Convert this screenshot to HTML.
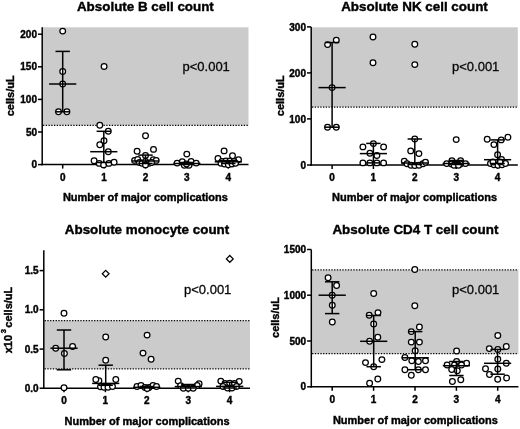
<!DOCTYPE html>
<html><head><meta charset="utf-8"><style>
html,body{margin:0;padding:0;background:#fff;}
svg{display:block;will-change:transform;}
text{font-family:"Liberation Sans", sans-serif;fill:#000;}
text[font-weight=bold]{stroke:#000;stroke-width:0.4px;}
</style></head><body>
<svg width="520" height="429" viewBox="0 0 520 429">
<rect width="520" height="429" fill="#fff"/>
<rect x="42.2" y="27.3" width="206.3" height="98.1" fill="#cbcbcb"/>
<line x1="43.0" y1="125.4" x2="248.5" y2="125.4" stroke="#000" stroke-width="1.3" stroke-dasharray="1.3 1.45"/>
<line x1="42.2" y1="27.3" x2="42.2" y2="165.35" stroke="#000" stroke-width="1.5" />
<line x1="41.45" y1="164.6" x2="248.5" y2="164.6" stroke="#000" stroke-width="1.5" />
<line x1="38.0" y1="34.2" x2="42.2" y2="34.2" stroke="#000" stroke-width="1.5" />
<text x="37.0" y="37.8" font-size="10" font-weight="bold" text-anchor="end" >200</text>
<line x1="38.0" y1="66.8" x2="42.2" y2="66.8" stroke="#000" stroke-width="1.5" />
<text x="37.0" y="70.4" font-size="10" font-weight="bold" text-anchor="end" >150</text>
<line x1="38.0" y1="99.4" x2="42.2" y2="99.4" stroke="#000" stroke-width="1.5" />
<text x="37.0" y="103.0" font-size="10" font-weight="bold" text-anchor="end" >100</text>
<line x1="38.0" y1="132" x2="42.2" y2="132" stroke="#000" stroke-width="1.5" />
<text x="37.0" y="135.6" font-size="10" font-weight="bold" text-anchor="end" >50</text>
<line x1="38.0" y1="164.6" x2="42.2" y2="164.6" stroke="#000" stroke-width="1.5" />
<text x="37.0" y="168.2" font-size="10" font-weight="bold" text-anchor="end" >0</text>
<line x1="62.7" y1="164.6" x2="62.7" y2="168.6" stroke="#000" stroke-width="1.5" />
<text x="62.7" y="180.7" font-size="10" font-weight="bold" text-anchor="middle" >0</text>
<line x1="104.1" y1="164.6" x2="104.1" y2="168.6" stroke="#000" stroke-width="1.5" />
<text x="104.1" y="180.7" font-size="10" font-weight="bold" text-anchor="middle" >1</text>
<line x1="145.5" y1="164.6" x2="145.5" y2="168.6" stroke="#000" stroke-width="1.5" />
<text x="145.5" y="180.7" font-size="10" font-weight="bold" text-anchor="middle" >2</text>
<line x1="186.9" y1="164.6" x2="186.9" y2="168.6" stroke="#000" stroke-width="1.5" />
<text x="186.9" y="180.7" font-size="10" font-weight="bold" text-anchor="middle" >3</text>
<line x1="228.3" y1="164.6" x2="228.3" y2="168.6" stroke="#000" stroke-width="1.5" />
<text x="228.3" y="180.7" font-size="10" font-weight="bold" text-anchor="middle" >4</text>
<text x="145.4" y="10.5" font-size="13.4" font-weight="bold" text-anchor="middle" >Absolute B cell count</text>
<text x="145.4" y="201.3" font-size="11" font-weight="bold" text-anchor="middle" >Number of major complications</text>
<text transform="translate(14,95.8) rotate(-90)" font-size="11" font-weight="bold" text-anchor="middle">cells/uL</text>
<text x="182.5" y="70.9" font-size="13" font-weight="normal" text-anchor="start" fill="#111" stroke="#111" stroke-width="0.3">p&lt;0.001</text>
<circle cx="62.7" cy="31.1" r="2.85" fill="#fff" stroke="#000" stroke-width="1.25"/>
<circle cx="62.7" cy="71.4" r="2.85" fill="#fff" stroke="#000" stroke-width="1.25"/>
<circle cx="62.7" cy="84" r="2.85" fill="#fff" stroke="#000" stroke-width="1.25"/>
<circle cx="58.5" cy="111.8" r="2.85" fill="#fff" stroke="#000" stroke-width="1.25"/>
<circle cx="66.9" cy="111.8" r="2.85" fill="#fff" stroke="#000" stroke-width="1.25"/>
<circle cx="104.1" cy="66.4" r="2.85" fill="#fff" stroke="#000" stroke-width="1.25"/>
<circle cx="99.8" cy="125.2" r="2.85" fill="#fff" stroke="#000" stroke-width="1.25"/>
<circle cx="108.3" cy="131.3" r="2.85" fill="#fff" stroke="#000" stroke-width="1.25"/>
<circle cx="104" cy="140.7" r="2.85" fill="#fff" stroke="#000" stroke-width="1.25"/>
<circle cx="99.8" cy="144.8" r="2.85" fill="#fff" stroke="#000" stroke-width="1.25"/>
<circle cx="108.3" cy="151.7" r="2.85" fill="#fff" stroke="#000" stroke-width="1.25"/>
<circle cx="94.1" cy="160.8" r="2.85" fill="#fff" stroke="#000" stroke-width="1.25"/>
<circle cx="99.2" cy="163.4" r="2.85" fill="#fff" stroke="#000" stroke-width="1.25"/>
<circle cx="103.6" cy="164.9" r="2.85" fill="#fff" stroke="#000" stroke-width="1.25"/>
<circle cx="108.9" cy="163.4" r="2.85" fill="#fff" stroke="#000" stroke-width="1.25"/>
<circle cx="114.1" cy="162.2" r="2.85" fill="#fff" stroke="#000" stroke-width="1.25"/>
<circle cx="145.5" cy="135.8" r="2.85" fill="#fff" stroke="#000" stroke-width="1.25"/>
<circle cx="137.1" cy="151.2" r="2.85" fill="#fff" stroke="#000" stroke-width="1.25"/>
<circle cx="153.5" cy="149.4" r="2.85" fill="#fff" stroke="#000" stroke-width="1.25"/>
<circle cx="145.5" cy="155.4" r="2.85" fill="#fff" stroke="#000" stroke-width="1.25"/>
<circle cx="134.6" cy="160.4" r="2.85" fill="#fff" stroke="#000" stroke-width="1.25"/>
<circle cx="137.7" cy="159.5" r="2.85" fill="#fff" stroke="#000" stroke-width="1.25"/>
<circle cx="153.3" cy="159.6" r="2.85" fill="#fff" stroke="#000" stroke-width="1.25"/>
<circle cx="156.2" cy="160.4" r="2.85" fill="#fff" stroke="#000" stroke-width="1.25"/>
<circle cx="139.5" cy="162.5" r="2.85" fill="#fff" stroke="#000" stroke-width="1.25"/>
<circle cx="142" cy="163.3" r="2.85" fill="#fff" stroke="#000" stroke-width="1.25"/>
<circle cx="145.5" cy="161.5" r="2.85" fill="#fff" stroke="#000" stroke-width="1.25"/>
<circle cx="149" cy="163.3" r="2.85" fill="#fff" stroke="#000" stroke-width="1.25"/>
<circle cx="151.5" cy="162.5" r="2.85" fill="#fff" stroke="#000" stroke-width="1.25"/>
<circle cx="145.5" cy="164.9" r="2.85" fill="#fff" stroke="#000" stroke-width="1.25"/>
<circle cx="186.8" cy="154.1" r="2.85" fill="#fff" stroke="#000" stroke-width="1.25"/>
<circle cx="177.1" cy="163.1" r="2.85" fill="#fff" stroke="#000" stroke-width="1.25"/>
<circle cx="182.3" cy="161.7" r="2.85" fill="#fff" stroke="#000" stroke-width="1.25"/>
<circle cx="191.1" cy="161.5" r="2.85" fill="#fff" stroke="#000" stroke-width="1.25"/>
<circle cx="196.2" cy="163.1" r="2.85" fill="#fff" stroke="#000" stroke-width="1.25"/>
<circle cx="184.3" cy="165.3" r="2.85" fill="#fff" stroke="#000" stroke-width="1.25"/>
<circle cx="189" cy="165.3" r="2.85" fill="#fff" stroke="#000" stroke-width="1.25"/>
<circle cx="186.5" cy="164" r="2.85" fill="#fff" stroke="#000" stroke-width="1.25"/>
<circle cx="224.1" cy="150.9" r="2.85" fill="#fff" stroke="#000" stroke-width="1.25"/>
<circle cx="232.5" cy="155.8" r="2.85" fill="#fff" stroke="#000" stroke-width="1.25"/>
<circle cx="218" cy="158.4" r="2.85" fill="#fff" stroke="#000" stroke-width="1.25"/>
<circle cx="238.5" cy="159.6" r="2.85" fill="#fff" stroke="#000" stroke-width="1.25"/>
<circle cx="222" cy="161.5" r="2.85" fill="#fff" stroke="#000" stroke-width="1.25"/>
<circle cx="226" cy="161" r="2.85" fill="#fff" stroke="#000" stroke-width="1.25"/>
<circle cx="230" cy="161" r="2.85" fill="#fff" stroke="#000" stroke-width="1.25"/>
<circle cx="234" cy="161.5" r="2.85" fill="#fff" stroke="#000" stroke-width="1.25"/>
<circle cx="221" cy="163.3" r="2.85" fill="#fff" stroke="#000" stroke-width="1.25"/>
<circle cx="224.5" cy="164" r="2.85" fill="#fff" stroke="#000" stroke-width="1.25"/>
<circle cx="228.3" cy="164.7" r="2.85" fill="#fff" stroke="#000" stroke-width="1.25"/>
<circle cx="232" cy="164" r="2.85" fill="#fff" stroke="#000" stroke-width="1.25"/>
<circle cx="235.5" cy="163.3" r="2.85" fill="#fff" stroke="#000" stroke-width="1.25"/>
<line x1="62.7" y1="51.4" x2="62.7" y2="111.8" stroke="#000" stroke-width="1.5" />
<line x1="55.5" y1="51.4" x2="69.9" y2="51.4" stroke="#000" stroke-width="1.5" />
<line x1="55.5" y1="111.8" x2="69.9" y2="111.8" stroke="#000" stroke-width="1.5" />
<line x1="49.1" y1="84" x2="76.3" y2="84" stroke="#000" stroke-width="1.5" />
<line x1="103.8" y1="131.3" x2="103.8" y2="162.5" stroke="#000" stroke-width="1.5" />
<line x1="96.6" y1="131.3" x2="111.0" y2="131.3" stroke="#000" stroke-width="1.5" />
<line x1="96.6" y1="162.5" x2="111.0" y2="162.5" stroke="#000" stroke-width="1.5" />
<line x1="90.2" y1="151.7" x2="117.4" y2="151.7" stroke="#000" stroke-width="1.5" />
<line x1="145.5" y1="155.1" x2="145.5" y2="163.5" stroke="#000" stroke-width="1.5" />
<line x1="138.3" y1="155.1" x2="152.7" y2="155.1" stroke="#000" stroke-width="1.5" />
<line x1="138.3" y1="163.5" x2="152.7" y2="163.5" stroke="#000" stroke-width="1.5" />
<line x1="131.9" y1="161" x2="159.1" y2="161" stroke="#000" stroke-width="1.5" />
<line x1="186.9" y1="162.5" x2="186.9" y2="164.5" stroke="#000" stroke-width="1.5" />
<line x1="179.7" y1="162.5" x2="194.1" y2="162.5" stroke="#000" stroke-width="1.5" />
<line x1="179.7" y1="164.5" x2="194.1" y2="164.5" stroke="#000" stroke-width="1.5" />
<line x1="173.3" y1="163.5" x2="200.5" y2="163.5" stroke="#000" stroke-width="1.5" />
<line x1="228.3" y1="160.6" x2="228.3" y2="163.5" stroke="#000" stroke-width="1.5" />
<line x1="221.1" y1="160.6" x2="235.5" y2="160.6" stroke="#000" stroke-width="1.5" />
<line x1="221.1" y1="163.5" x2="235.5" y2="163.5" stroke="#000" stroke-width="1.5" />
<line x1="214.7" y1="161.8" x2="241.9" y2="161.8" stroke="#000" stroke-width="1.5" />
<rect x="311.2" y="27.3" width="206.6" height="79.8" fill="#cbcbcb"/>
<line x1="312.0" y1="107.1" x2="517.8" y2="107.1" stroke="#000" stroke-width="1.3" stroke-dasharray="1.3 1.45"/>
<line x1="311.2" y1="27.0" x2="311.2" y2="165.75" stroke="#000" stroke-width="1.5" />
<line x1="310.45" y1="165.0" x2="517.8" y2="165.0" stroke="#000" stroke-width="1.5" />
<line x1="307.0" y1="26.9" x2="311.2" y2="26.9" stroke="#000" stroke-width="1.5" />
<text x="306.0" y="30.5" font-size="10" font-weight="bold" text-anchor="end" >300</text>
<line x1="307.0" y1="72.9" x2="311.2" y2="72.9" stroke="#000" stroke-width="1.5" />
<text x="306.0" y="76.5" font-size="10" font-weight="bold" text-anchor="end" >200</text>
<line x1="307.0" y1="118.9" x2="311.2" y2="118.9" stroke="#000" stroke-width="1.5" />
<text x="306.0" y="122.5" font-size="10" font-weight="bold" text-anchor="end" >100</text>
<line x1="307.0" y1="165" x2="311.2" y2="165" stroke="#000" stroke-width="1.5" />
<text x="306.0" y="168.6" font-size="10" font-weight="bold" text-anchor="end" >0</text>
<line x1="332.1" y1="165.0" x2="332.1" y2="169.0" stroke="#000" stroke-width="1.5" />
<text x="332.1" y="180.8" font-size="10" font-weight="bold" text-anchor="middle" >0</text>
<line x1="373.4" y1="165.0" x2="373.4" y2="169.0" stroke="#000" stroke-width="1.5" />
<text x="373.4" y="180.8" font-size="10" font-weight="bold" text-anchor="middle" >1</text>
<line x1="414.8" y1="165.0" x2="414.8" y2="169.0" stroke="#000" stroke-width="1.5" />
<text x="414.8" y="180.8" font-size="10" font-weight="bold" text-anchor="middle" >2</text>
<line x1="456.2" y1="165.0" x2="456.2" y2="169.0" stroke="#000" stroke-width="1.5" />
<text x="456.2" y="180.8" font-size="10" font-weight="bold" text-anchor="middle" >3</text>
<line x1="497.6" y1="165.0" x2="497.6" y2="169.0" stroke="#000" stroke-width="1.5" />
<text x="497.6" y="180.8" font-size="10" font-weight="bold" text-anchor="middle" >4</text>
<text x="414.5" y="10.5" font-size="13.4" font-weight="bold" text-anchor="middle" >Absolute NK cell count</text>
<text x="414.5" y="201.1" font-size="11" font-weight="bold" text-anchor="middle" >Number of major complications</text>
<text transform="translate(284,95.7) rotate(-90)" font-size="11" font-weight="bold" text-anchor="middle">cells/uL</text>
<text x="452.0" y="71.0" font-size="13" font-weight="normal" text-anchor="start" fill="#111" stroke="#111" stroke-width="0.3">p&lt;0.001</text>
<circle cx="327.6" cy="44.6" r="2.85" fill="#fff" stroke="#000" stroke-width="1.25"/>
<circle cx="336.3" cy="40.1" r="2.85" fill="#fff" stroke="#000" stroke-width="1.25"/>
<circle cx="332.1" cy="87.6" r="2.85" fill="#fff" stroke="#000" stroke-width="1.25"/>
<circle cx="327.5" cy="127.2" r="2.85" fill="#fff" stroke="#000" stroke-width="1.25"/>
<circle cx="336.3" cy="127.2" r="2.85" fill="#fff" stroke="#000" stroke-width="1.25"/>
<circle cx="373.0" cy="36.9" r="2.85" fill="#fff" stroke="#000" stroke-width="1.25"/>
<circle cx="373.0" cy="62.8" r="2.85" fill="#fff" stroke="#000" stroke-width="1.25"/>
<circle cx="373.4" cy="143.6" r="2.85" fill="#fff" stroke="#000" stroke-width="1.25"/>
<circle cx="362.9" cy="146.9" r="2.85" fill="#fff" stroke="#000" stroke-width="1.25"/>
<circle cx="383.6" cy="146.9" r="2.85" fill="#fff" stroke="#000" stroke-width="1.25"/>
<circle cx="369.9" cy="153.2" r="2.85" fill="#fff" stroke="#000" stroke-width="1.25"/>
<circle cx="376.9" cy="155.5" r="2.85" fill="#fff" stroke="#000" stroke-width="1.25"/>
<circle cx="362.9" cy="162.9" r="2.85" fill="#fff" stroke="#000" stroke-width="1.25"/>
<circle cx="369.9" cy="162.9" r="2.85" fill="#fff" stroke="#000" stroke-width="1.25"/>
<circle cx="376.9" cy="162.9" r="2.85" fill="#fff" stroke="#000" stroke-width="1.25"/>
<circle cx="383.6" cy="162.9" r="2.85" fill="#fff" stroke="#000" stroke-width="1.25"/>
<circle cx="414.8" cy="44.2" r="2.85" fill="#fff" stroke="#000" stroke-width="1.25"/>
<circle cx="414.8" cy="64.6" r="2.85" fill="#fff" stroke="#000" stroke-width="1.25"/>
<circle cx="414.8" cy="139" r="2.85" fill="#fff" stroke="#000" stroke-width="1.25"/>
<circle cx="410.7" cy="150.9" r="2.85" fill="#fff" stroke="#000" stroke-width="1.25"/>
<circle cx="418.9" cy="153.6" r="2.85" fill="#fff" stroke="#000" stroke-width="1.25"/>
<circle cx="404.3" cy="161.1" r="2.85" fill="#fff" stroke="#000" stroke-width="1.25"/>
<circle cx="407" cy="163.8" r="2.85" fill="#fff" stroke="#000" stroke-width="1.25"/>
<circle cx="411" cy="165.2" r="2.85" fill="#fff" stroke="#000" stroke-width="1.25"/>
<circle cx="414.8" cy="165.6" r="2.85" fill="#fff" stroke="#000" stroke-width="1.25"/>
<circle cx="419" cy="165.2" r="2.85" fill="#fff" stroke="#000" stroke-width="1.25"/>
<circle cx="423" cy="163.8" r="2.85" fill="#fff" stroke="#000" stroke-width="1.25"/>
<circle cx="425.5" cy="162.3" r="2.85" fill="#fff" stroke="#000" stroke-width="1.25"/>
<circle cx="456.2" cy="139.6" r="2.85" fill="#fff" stroke="#000" stroke-width="1.25"/>
<circle cx="446.7" cy="163.6" r="2.85" fill="#fff" stroke="#000" stroke-width="1.25"/>
<circle cx="451.9" cy="160.8" r="2.85" fill="#fff" stroke="#000" stroke-width="1.25"/>
<circle cx="460.6" cy="160.8" r="2.85" fill="#fff" stroke="#000" stroke-width="1.25"/>
<circle cx="465.5" cy="163.6" r="2.85" fill="#fff" stroke="#000" stroke-width="1.25"/>
<circle cx="451.5" cy="164" r="2.85" fill="#fff" stroke="#000" stroke-width="1.25"/>
<circle cx="456" cy="164" r="2.85" fill="#fff" stroke="#000" stroke-width="1.25"/>
<circle cx="460.5" cy="164" r="2.85" fill="#fff" stroke="#000" stroke-width="1.25"/>
<circle cx="454" cy="165.2" r="2.85" fill="#fff" stroke="#000" stroke-width="1.25"/>
<circle cx="458.5" cy="165.2" r="2.85" fill="#fff" stroke="#000" stroke-width="1.25"/>
<circle cx="487.2" cy="139.2" r="2.85" fill="#fff" stroke="#000" stroke-width="1.25"/>
<circle cx="501.2" cy="139.9" r="2.85" fill="#fff" stroke="#000" stroke-width="1.25"/>
<circle cx="507.9" cy="137.2" r="2.85" fill="#fff" stroke="#000" stroke-width="1.25"/>
<circle cx="493.9" cy="144.6" r="2.85" fill="#fff" stroke="#000" stroke-width="1.25"/>
<circle cx="497.6" cy="154.7" r="2.85" fill="#fff" stroke="#000" stroke-width="1.25"/>
<circle cx="501.5" cy="159.5" r="2.85" fill="#fff" stroke="#000" stroke-width="1.25"/>
<circle cx="490.5" cy="163.5" r="2.85" fill="#fff" stroke="#000" stroke-width="1.25"/>
<circle cx="494" cy="164.7" r="2.85" fill="#fff" stroke="#000" stroke-width="1.25"/>
<circle cx="498" cy="165.3" r="2.85" fill="#fff" stroke="#000" stroke-width="1.25"/>
<circle cx="502" cy="164.7" r="2.85" fill="#fff" stroke="#000" stroke-width="1.25"/>
<circle cx="505.5" cy="163.5" r="2.85" fill="#fff" stroke="#000" stroke-width="1.25"/>
<circle cx="493" cy="162" r="2.85" fill="#fff" stroke="#000" stroke-width="1.25"/>
<circle cx="500" cy="162" r="2.85" fill="#fff" stroke="#000" stroke-width="1.25"/>
<line x1="332.1" y1="42.5" x2="332.1" y2="127.2" stroke="#000" stroke-width="1.5" />
<line x1="324.9" y1="42.5" x2="339.3" y2="42.5" stroke="#000" stroke-width="1.5" />
<line x1="324.9" y1="127.2" x2="339.3" y2="127.2" stroke="#000" stroke-width="1.5" />
<line x1="318.5" y1="87.6" x2="345.7" y2="87.6" stroke="#000" stroke-width="1.5" />
<line x1="373.4" y1="143.4" x2="373.4" y2="162.9" stroke="#000" stroke-width="1.5" />
<line x1="366.2" y1="143.4" x2="380.6" y2="143.4" stroke="#000" stroke-width="1.5" />
<line x1="366.2" y1="162.9" x2="380.6" y2="162.9" stroke="#000" stroke-width="1.5" />
<line x1="359.8" y1="153.6" x2="387.0" y2="153.6" stroke="#000" stroke-width="1.5" />
<line x1="414.8" y1="139" x2="414.8" y2="164.5" stroke="#000" stroke-width="1.5" />
<line x1="407.6" y1="139" x2="422.0" y2="139" stroke="#000" stroke-width="1.5" />
<line x1="407.6" y1="164.5" x2="422.0" y2="164.5" stroke="#000" stroke-width="1.5" />
<line x1="401.2" y1="163" x2="428.4" y2="163" stroke="#000" stroke-width="1.5" />
<line x1="456.2" y1="160.5" x2="456.2" y2="164.5" stroke="#000" stroke-width="1.5" />
<line x1="449.0" y1="160.5" x2="463.4" y2="160.5" stroke="#000" stroke-width="1.5" />
<line x1="449.0" y1="164.5" x2="463.4" y2="164.5" stroke="#000" stroke-width="1.5" />
<line x1="442.6" y1="163.5" x2="469.8" y2="163.5" stroke="#000" stroke-width="1.5" />
<line x1="497.6" y1="139.9" x2="497.6" y2="163.5" stroke="#000" stroke-width="1.5" />
<line x1="490.4" y1="139.9" x2="504.8" y2="139.9" stroke="#000" stroke-width="1.5" />
<line x1="490.4" y1="163.5" x2="504.8" y2="163.5" stroke="#000" stroke-width="1.5" />
<line x1="484.0" y1="159.7" x2="511.2" y2="159.7" stroke="#000" stroke-width="1.5" />
<rect x="43.8" y="320.6" width="206.2" height="48.3" fill="#cbcbcb"/>
<line x1="44.6" y1="320.6" x2="250.0" y2="320.6" stroke="#000" stroke-width="1.3" stroke-dasharray="1.3 1.45"/>
<line x1="44.6" y1="368.9" x2="250.0" y2="368.9" stroke="#000" stroke-width="1.3" stroke-dasharray="1.3 1.45"/>
<line x1="43.8" y1="250.3" x2="43.8" y2="388.95" stroke="#000" stroke-width="1.5" />
<line x1="43.05" y1="388.2" x2="250.0" y2="388.2" stroke="#000" stroke-width="1.5" />
<line x1="39.6" y1="270.6" x2="43.8" y2="270.6" stroke="#000" stroke-width="1.5" />
<text x="38.6" y="274.2" font-size="10" font-weight="bold" text-anchor="end" >1.5</text>
<line x1="39.6" y1="309.8" x2="43.8" y2="309.8" stroke="#000" stroke-width="1.5" />
<text x="38.6" y="313.4" font-size="10" font-weight="bold" text-anchor="end" >1.0</text>
<line x1="39.6" y1="349.1" x2="43.8" y2="349.1" stroke="#000" stroke-width="1.5" />
<text x="38.6" y="352.7" font-size="10" font-weight="bold" text-anchor="end" >0.5</text>
<line x1="39.6" y1="388.2" x2="43.8" y2="388.2" stroke="#000" stroke-width="1.5" />
<text x="38.6" y="391.8" font-size="10" font-weight="bold" text-anchor="end" >0.0</text>
<line x1="64.0" y1="388.2" x2="64.0" y2="392.2" stroke="#000" stroke-width="1.5" />
<text x="64.0" y="403.8" font-size="10" font-weight="bold" text-anchor="middle" >0</text>
<line x1="105.4" y1="388.2" x2="105.4" y2="392.2" stroke="#000" stroke-width="1.5" />
<text x="105.4" y="403.8" font-size="10" font-weight="bold" text-anchor="middle" >1</text>
<line x1="146.8" y1="388.2" x2="146.8" y2="392.2" stroke="#000" stroke-width="1.5" />
<text x="146.8" y="403.8" font-size="10" font-weight="bold" text-anchor="middle" >2</text>
<line x1="188.2" y1="388.2" x2="188.2" y2="392.2" stroke="#000" stroke-width="1.5" />
<text x="188.2" y="403.8" font-size="10" font-weight="bold" text-anchor="middle" >3</text>
<line x1="229.6" y1="388.2" x2="229.6" y2="392.2" stroke="#000" stroke-width="1.5" />
<text x="229.6" y="403.8" font-size="10" font-weight="bold" text-anchor="middle" >4</text>
<text x="147.0" y="233.9" font-size="13.4" font-weight="bold" text-anchor="middle" >Absolute monocyte count</text>
<text x="147.0" y="425.0" font-size="11" font-weight="bold" text-anchor="middle" >Number of major complications</text>
<text transform="translate(11.7,320.0) rotate(-90)" font-size="11" font-weight="bold" text-anchor="middle">x10<tspan font-size="7.5" dx="1.6" dy="-5.8">3</tspan><tspan dx="-1.6" dy="5.8"> cells/uL</tspan></text>
<text x="184.0" y="294.3" font-size="13" font-weight="normal" text-anchor="start" fill="#111" stroke="#111" stroke-width="0.3">p&lt;0.001</text>
<circle cx="64" cy="313.3" r="2.85" fill="#fff" stroke="#000" stroke-width="1.25"/>
<circle cx="55.7" cy="348.2" r="2.85" fill="#fff" stroke="#000" stroke-width="1.25"/>
<circle cx="72.6" cy="346.5" r="2.85" fill="#fff" stroke="#000" stroke-width="1.25"/>
<circle cx="64.4" cy="353.4" r="2.85" fill="#fff" stroke="#000" stroke-width="1.25"/>
<circle cx="64" cy="387.8" r="2.85" fill="#fff" stroke="#000" stroke-width="1.25"/>
<circle cx="105.7" cy="336.9" r="2.85" fill="#fff" stroke="#000" stroke-width="1.25"/>
<circle cx="105.7" cy="360.2" r="2.85" fill="#fff" stroke="#000" stroke-width="1.25"/>
<circle cx="98.9" cy="380.8" r="2.85" fill="#fff" stroke="#000" stroke-width="1.25"/>
<circle cx="95.8" cy="379.4" r="2.85" fill="#fff" stroke="#000" stroke-width="1.25"/>
<circle cx="115.8" cy="379.4" r="2.85" fill="#fff" stroke="#000" stroke-width="1.25"/>
<circle cx="100.5" cy="386.8" r="2.85" fill="#fff" stroke="#000" stroke-width="1.25"/>
<circle cx="104" cy="387.3" r="2.85" fill="#fff" stroke="#000" stroke-width="1.25"/>
<circle cx="108" cy="387.3" r="2.85" fill="#fff" stroke="#000" stroke-width="1.25"/>
<circle cx="112.5" cy="386.5" r="2.85" fill="#fff" stroke="#000" stroke-width="1.25"/>
<circle cx="147.1" cy="335.1" r="2.85" fill="#fff" stroke="#000" stroke-width="1.25"/>
<circle cx="143" cy="353.1" r="2.85" fill="#fff" stroke="#000" stroke-width="1.25"/>
<circle cx="151.1" cy="359.3" r="2.85" fill="#fff" stroke="#000" stroke-width="1.25"/>
<circle cx="137" cy="386.5" r="2.85" fill="#fff" stroke="#000" stroke-width="1.25"/>
<circle cx="141" cy="385.5" r="2.85" fill="#fff" stroke="#000" stroke-width="1.25"/>
<circle cx="145" cy="387.5" r="2.85" fill="#fff" stroke="#000" stroke-width="1.25"/>
<circle cx="149" cy="387.5" r="2.85" fill="#fff" stroke="#000" stroke-width="1.25"/>
<circle cx="153" cy="385.5" r="2.85" fill="#fff" stroke="#000" stroke-width="1.25"/>
<circle cx="156.5" cy="386.5" r="2.85" fill="#fff" stroke="#000" stroke-width="1.25"/>
<circle cx="147.2" cy="388.5" r="2.85" fill="#fff" stroke="#000" stroke-width="1.25"/>
<circle cx="178.2" cy="381.1" r="2.85" fill="#fff" stroke="#000" stroke-width="1.25"/>
<circle cx="180.6" cy="385.7" r="2.85" fill="#fff" stroke="#000" stroke-width="1.25"/>
<circle cx="199.1" cy="383.8" r="2.85" fill="#fff" stroke="#000" stroke-width="1.25"/>
<circle cx="197.2" cy="385.4" r="2.85" fill="#fff" stroke="#000" stroke-width="1.25"/>
<circle cx="183.4" cy="388.2" r="2.85" fill="#fff" stroke="#000" stroke-width="1.25"/>
<circle cx="188.3" cy="388.2" r="2.85" fill="#fff" stroke="#000" stroke-width="1.25"/>
<circle cx="193.2" cy="388.2" r="2.85" fill="#fff" stroke="#000" stroke-width="1.25"/>
<circle cx="220.8" cy="381.1" r="2.85" fill="#fff" stroke="#000" stroke-width="1.25"/>
<circle cx="239.2" cy="381.4" r="2.85" fill="#fff" stroke="#000" stroke-width="1.25"/>
<circle cx="225" cy="383.5" r="2.85" fill="#fff" stroke="#000" stroke-width="1.25"/>
<circle cx="229.7" cy="383.2" r="2.85" fill="#fff" stroke="#000" stroke-width="1.25"/>
<circle cx="234.5" cy="383.5" r="2.85" fill="#fff" stroke="#000" stroke-width="1.25"/>
<circle cx="223" cy="386.5" r="2.85" fill="#fff" stroke="#000" stroke-width="1.25"/>
<circle cx="227.5" cy="388" r="2.85" fill="#fff" stroke="#000" stroke-width="1.25"/>
<circle cx="232" cy="388" r="2.85" fill="#fff" stroke="#000" stroke-width="1.25"/>
<circle cx="236.5" cy="386.5" r="2.85" fill="#fff" stroke="#000" stroke-width="1.25"/>
<line x1="64.0" y1="330" x2="64.0" y2="369.8" stroke="#000" stroke-width="1.5" />
<line x1="56.8" y1="330" x2="71.2" y2="330" stroke="#000" stroke-width="1.5" />
<line x1="56.8" y1="369.8" x2="71.2" y2="369.8" stroke="#000" stroke-width="1.5" />
<line x1="50.4" y1="348.2" x2="77.6" y2="348.2" stroke="#000" stroke-width="1.5" />
<line x1="105.7" y1="365.2" x2="105.7" y2="385.3" stroke="#000" stroke-width="1.5" />
<line x1="98.5" y1="365.2" x2="112.9" y2="365.2" stroke="#000" stroke-width="1.5" />
<line x1="98.5" y1="385.3" x2="112.9" y2="385.3" stroke="#000" stroke-width="1.5" />
<line x1="92.1" y1="383.4" x2="119.3" y2="383.4" stroke="#000" stroke-width="1.5" />
<line x1="146.8" y1="386.5" x2="146.8" y2="388" stroke="#000" stroke-width="1.5" />
<line x1="139.6" y1="386.5" x2="154.0" y2="386.5" stroke="#000" stroke-width="1.5" />
<line x1="139.6" y1="388" x2="154.0" y2="388" stroke="#000" stroke-width="1.5" />
<line x1="133.2" y1="387.3" x2="160.4" y2="387.3" stroke="#000" stroke-width="1.5" />
<line x1="188.3" y1="384.5" x2="188.3" y2="388" stroke="#000" stroke-width="1.5" />
<line x1="181.1" y1="384.5" x2="195.5" y2="384.5" stroke="#000" stroke-width="1.5" />
<line x1="181.1" y1="388" x2="195.5" y2="388" stroke="#000" stroke-width="1.5" />
<line x1="174.7" y1="386.6" x2="201.9" y2="386.6" stroke="#000" stroke-width="1.5" />
<line x1="229.7" y1="382.3" x2="229.7" y2="388" stroke="#000" stroke-width="1.5" />
<line x1="222.5" y1="382.3" x2="236.9" y2="382.3" stroke="#000" stroke-width="1.5" />
<line x1="222.5" y1="388" x2="236.9" y2="388" stroke="#000" stroke-width="1.5" />
<line x1="216.1" y1="386.4" x2="243.3" y2="386.4" stroke="#000" stroke-width="1.5" />
<path d="M105.7 270.4L109.1 273.8L105.7 277.2L102.3 273.8Z" fill="#fff" stroke="#000" stroke-width="1.25"/>
<path d="M229.8 255.5L233.2 258.9L229.8 262.3L226.4 258.9Z" fill="#fff" stroke="#000" stroke-width="1.25"/>
<rect x="311.3" y="269.8" width="207.1" height="83.9" fill="#cbcbcb"/>
<line x1="312.1" y1="269.8" x2="518.4" y2="269.8" stroke="#000" stroke-width="1.3" stroke-dasharray="1.3 1.45"/>
<line x1="312.1" y1="353.7" x2="518.4" y2="353.7" stroke="#000" stroke-width="1.3" stroke-dasharray="1.3 1.45"/>
<line x1="311.3" y1="249.5" x2="311.3" y2="387.55" stroke="#000" stroke-width="1.5" />
<line x1="310.55" y1="386.8" x2="518.4" y2="386.8" stroke="#000" stroke-width="1.5" />
<line x1="307.1" y1="249.5" x2="311.3" y2="249.5" stroke="#000" stroke-width="1.5" />
<text x="306.1" y="253.1" font-size="10" font-weight="bold" text-anchor="end" >1500</text>
<line x1="307.1" y1="295.2" x2="311.3" y2="295.2" stroke="#000" stroke-width="1.5" />
<text x="306.1" y="298.8" font-size="10" font-weight="bold" text-anchor="end" >1000</text>
<line x1="307.1" y1="341" x2="311.3" y2="341" stroke="#000" stroke-width="1.5" />
<text x="306.1" y="344.6" font-size="10" font-weight="bold" text-anchor="end" >500</text>
<line x1="307.1" y1="386.8" x2="311.3" y2="386.8" stroke="#000" stroke-width="1.5" />
<text x="306.1" y="390.4" font-size="10" font-weight="bold" text-anchor="end" >0</text>
<line x1="332.2" y1="386.8" x2="332.2" y2="390.8" stroke="#000" stroke-width="1.5" />
<text x="332.2" y="402.7" font-size="10" font-weight="bold" text-anchor="middle" >0</text>
<line x1="373.6" y1="386.8" x2="373.6" y2="390.8" stroke="#000" stroke-width="1.5" />
<text x="373.6" y="402.7" font-size="10" font-weight="bold" text-anchor="middle" >1</text>
<line x1="415.0" y1="386.8" x2="415.0" y2="390.8" stroke="#000" stroke-width="1.5" />
<text x="415.0" y="402.7" font-size="10" font-weight="bold" text-anchor="middle" >2</text>
<line x1="456.4" y1="386.8" x2="456.4" y2="390.8" stroke="#000" stroke-width="1.5" />
<text x="456.4" y="402.7" font-size="10" font-weight="bold" text-anchor="middle" >3</text>
<line x1="497.7" y1="386.8" x2="497.7" y2="390.8" stroke="#000" stroke-width="1.5" />
<text x="497.7" y="402.7" font-size="10" font-weight="bold" text-anchor="middle" >4</text>
<text x="415.4" y="234.0" font-size="13.4" font-weight="bold" text-anchor="middle" >Absolute CD4 T cell count</text>
<text x="415.4" y="424.0" font-size="11" font-weight="bold" text-anchor="middle" >Number of major complications</text>
<text transform="translate(278.7,317.5) rotate(-90)" font-size="11" font-weight="bold" text-anchor="middle">cells/uL</text>
<text x="452.0" y="293.6" font-size="13" font-weight="normal" text-anchor="start" fill="#111" stroke="#111" stroke-width="0.3">p&lt;0.001</text>
<circle cx="328.1" cy="277.7" r="2.85" fill="#fff" stroke="#000" stroke-width="1.25"/>
<circle cx="336.6" cy="285.5" r="2.85" fill="#fff" stroke="#000" stroke-width="1.25"/>
<circle cx="332.2" cy="295.2" r="2.85" fill="#fff" stroke="#000" stroke-width="1.25"/>
<circle cx="332.3" cy="305.3" r="2.85" fill="#fff" stroke="#000" stroke-width="1.25"/>
<circle cx="332.3" cy="322" r="2.85" fill="#fff" stroke="#000" stroke-width="1.25"/>
<circle cx="373.7" cy="293.4" r="2.85" fill="#fff" stroke="#000" stroke-width="1.25"/>
<circle cx="378" cy="312.6" r="2.85" fill="#fff" stroke="#000" stroke-width="1.25"/>
<circle cx="369.2" cy="315.2" r="2.85" fill="#fff" stroke="#000" stroke-width="1.25"/>
<circle cx="373.7" cy="324" r="2.85" fill="#fff" stroke="#000" stroke-width="1.25"/>
<circle cx="377.8" cy="337.3" r="2.85" fill="#fff" stroke="#000" stroke-width="1.25"/>
<circle cx="369.6" cy="341.3" r="2.85" fill="#fff" stroke="#000" stroke-width="1.25"/>
<circle cx="381.9" cy="359.6" r="2.85" fill="#fff" stroke="#000" stroke-width="1.25"/>
<circle cx="365.5" cy="362.6" r="2.85" fill="#fff" stroke="#000" stroke-width="1.25"/>
<circle cx="373.7" cy="366.7" r="2.85" fill="#fff" stroke="#000" stroke-width="1.25"/>
<circle cx="377.8" cy="378.9" r="2.85" fill="#fff" stroke="#000" stroke-width="1.25"/>
<circle cx="369.6" cy="383.3" r="2.85" fill="#fff" stroke="#000" stroke-width="1.25"/>
<circle cx="414.8" cy="269.4" r="2.85" fill="#fff" stroke="#000" stroke-width="1.25"/>
<circle cx="414.8" cy="305.7" r="2.85" fill="#fff" stroke="#000" stroke-width="1.25"/>
<circle cx="419.4" cy="326.9" r="2.85" fill="#fff" stroke="#000" stroke-width="1.25"/>
<circle cx="411.3" cy="331.6" r="2.85" fill="#fff" stroke="#000" stroke-width="1.25"/>
<circle cx="411.3" cy="342.1" r="2.85" fill="#fff" stroke="#000" stroke-width="1.25"/>
<circle cx="419.4" cy="342.1" r="2.85" fill="#fff" stroke="#000" stroke-width="1.25"/>
<circle cx="415.2" cy="350.8" r="2.85" fill="#fff" stroke="#000" stroke-width="1.25"/>
<circle cx="404.9" cy="357.5" r="2.85" fill="#fff" stroke="#000" stroke-width="1.25"/>
<circle cx="411.8" cy="360.8" r="2.85" fill="#fff" stroke="#000" stroke-width="1.25"/>
<circle cx="418.4" cy="361.5" r="2.85" fill="#fff" stroke="#000" stroke-width="1.25"/>
<circle cx="425.5" cy="360.8" r="2.85" fill="#fff" stroke="#000" stroke-width="1.25"/>
<circle cx="404.9" cy="369.7" r="2.85" fill="#fff" stroke="#000" stroke-width="1.25"/>
<circle cx="418.4" cy="369.7" r="2.85" fill="#fff" stroke="#000" stroke-width="1.25"/>
<circle cx="425.5" cy="369.7" r="2.85" fill="#fff" stroke="#000" stroke-width="1.25"/>
<circle cx="411.3" cy="375.3" r="2.85" fill="#fff" stroke="#000" stroke-width="1.25"/>
<circle cx="456.6" cy="351" r="2.85" fill="#fff" stroke="#000" stroke-width="1.25"/>
<circle cx="456.6" cy="361.5" r="2.85" fill="#fff" stroke="#000" stroke-width="1.25"/>
<circle cx="466.6" cy="363.3" r="2.85" fill="#fff" stroke="#000" stroke-width="1.25"/>
<circle cx="447.1" cy="365" r="2.85" fill="#fff" stroke="#000" stroke-width="1.25"/>
<circle cx="454.5" cy="365" r="2.85" fill="#fff" stroke="#000" stroke-width="1.25"/>
<circle cx="461.5" cy="365" r="2.85" fill="#fff" stroke="#000" stroke-width="1.25"/>
<circle cx="451.7" cy="369.4" r="2.85" fill="#fff" stroke="#000" stroke-width="1.25"/>
<circle cx="457.3" cy="370.8" r="2.85" fill="#fff" stroke="#000" stroke-width="1.25"/>
<circle cx="452.4" cy="381.5" r="2.85" fill="#fff" stroke="#000" stroke-width="1.25"/>
<circle cx="460.8" cy="379.7" r="2.85" fill="#fff" stroke="#000" stroke-width="1.25"/>
<circle cx="497.8" cy="335.5" r="2.85" fill="#fff" stroke="#000" stroke-width="1.25"/>
<circle cx="489.3" cy="348.6" r="2.85" fill="#fff" stroke="#000" stroke-width="1.25"/>
<circle cx="506.3" cy="346.5" r="2.85" fill="#fff" stroke="#000" stroke-width="1.25"/>
<circle cx="497.8" cy="349.4" r="2.85" fill="#fff" stroke="#000" stroke-width="1.25"/>
<circle cx="497.8" cy="359.2" r="2.85" fill="#fff" stroke="#000" stroke-width="1.25"/>
<circle cx="506.3" cy="363.3" r="2.85" fill="#fff" stroke="#000" stroke-width="1.25"/>
<circle cx="485.5" cy="368.7" r="2.85" fill="#fff" stroke="#000" stroke-width="1.25"/>
<circle cx="497.8" cy="369" r="2.85" fill="#fff" stroke="#000" stroke-width="1.25"/>
<circle cx="489.5" cy="374.5" r="2.85" fill="#fff" stroke="#000" stroke-width="1.25"/>
<circle cx="497.7" cy="379.3" r="2.85" fill="#fff" stroke="#000" stroke-width="1.25"/>
<circle cx="506.6" cy="377.9" r="2.85" fill="#fff" stroke="#000" stroke-width="1.25"/>
<line x1="332.2" y1="281.8" x2="332.2" y2="313.6" stroke="#000" stroke-width="1.5" />
<line x1="325.0" y1="281.8" x2="339.4" y2="281.8" stroke="#000" stroke-width="1.5" />
<line x1="325.0" y1="313.6" x2="339.4" y2="313.6" stroke="#000" stroke-width="1.5" />
<line x1="318.6" y1="295.2" x2="345.8" y2="295.2" stroke="#000" stroke-width="1.5" />
<line x1="373.7" y1="315.5" x2="373.7" y2="366.7" stroke="#000" stroke-width="1.5" />
<line x1="366.5" y1="315.5" x2="380.9" y2="315.5" stroke="#000" stroke-width="1.5" />
<line x1="366.5" y1="366.7" x2="380.9" y2="366.7" stroke="#000" stroke-width="1.5" />
<line x1="360.1" y1="341.3" x2="387.3" y2="341.3" stroke="#000" stroke-width="1.5" />
<line x1="415.2" y1="331.6" x2="415.2" y2="369.7" stroke="#000" stroke-width="1.5" />
<line x1="408.0" y1="331.6" x2="422.4" y2="331.6" stroke="#000" stroke-width="1.5" />
<line x1="408.0" y1="369.7" x2="422.4" y2="369.7" stroke="#000" stroke-width="1.5" />
<line x1="401.6" y1="357.8" x2="428.8" y2="357.8" stroke="#000" stroke-width="1.5" />
<line x1="456.4" y1="361.5" x2="456.4" y2="375.5" stroke="#000" stroke-width="1.5" />
<line x1="449.2" y1="361.5" x2="463.6" y2="361.5" stroke="#000" stroke-width="1.5" />
<line x1="449.2" y1="375.5" x2="463.6" y2="375.5" stroke="#000" stroke-width="1.5" />
<line x1="442.8" y1="365.7" x2="470.0" y2="365.7" stroke="#000" stroke-width="1.5" />
<line x1="497.6" y1="349.4" x2="497.6" y2="374.2" stroke="#000" stroke-width="1.5" />
<line x1="490.4" y1="349.4" x2="504.8" y2="349.4" stroke="#000" stroke-width="1.5" />
<line x1="490.4" y1="374.2" x2="504.8" y2="374.2" stroke="#000" stroke-width="1.5" />
<line x1="484.0" y1="363.3" x2="511.2" y2="363.3" stroke="#000" stroke-width="1.5" />
</svg>
</body></html>
